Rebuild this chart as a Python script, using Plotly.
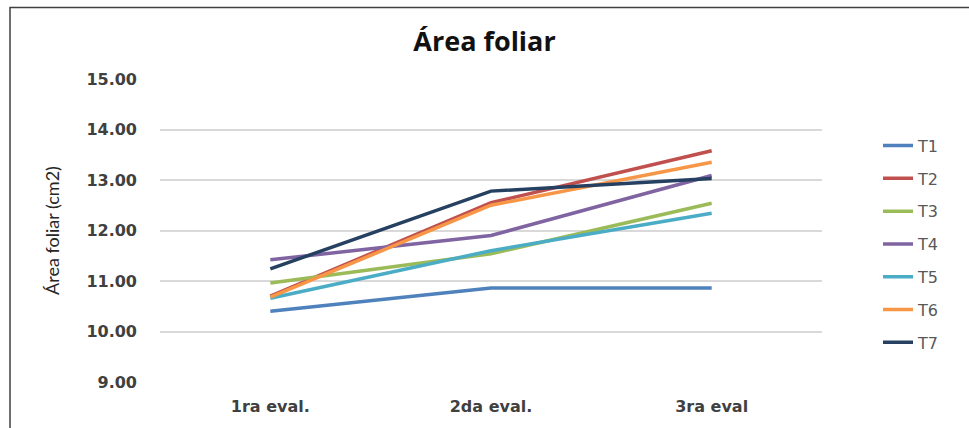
import plotly.graph_objects as go

categories = ["1ra eval.", "2da eval.", "3ra eval"]
series_names = ["T1", "T2", "T3", "T4", "T5", "T6", "T7"]
T1 = [10.40, 10.86, 10.86]
T2 = [10.70, 12.55, 13.58]
T3 = [10.96, 11.54, 12.54]
T4 = [11.42, 11.90, 13.09]
T5 = [10.66, 11.60, 12.34]
T6 = [10.68, 12.50, 13.35]
T7 = [11.24, 12.78, 13.03]
series_values = [T1, T2, T3, T4, T5, T6, T7]
colors = ["#4F81BD", "#C0504D", "#9BBB59", "#8064A2", "#4BACC6", "#F79646", "#254061"]
y_ticks = [9, 10, 11, 12, 13, 14, 15]
y_ticktext = ["9.00", "10.00", "11.00", "12.00", "13.00", "14.00", "15.00"]

fig = go.Figure()
for name, vals, col in zip(series_names, series_values, colors):
    fig.add_trace(go.Scatter(
        x=categories, y=vals, mode="lines", name=name, legendgroup=name,
        line=dict(color=col, width=3.5),
    ))

W, H = 969, 428
ml, mr, mt, mb = 160, 147, 79, 44
pw, ph = W - ml - mr, H - mt - mb

def px_x(p):
    return (p - ml) / pw

def px_y(p):
    return 1 - (p - mt) / ph

fig.update_layout(
    width=W, height=H,
    margin=dict(l=ml, r=mr, t=mt, b=mb),
    paper_bgcolor="white", plot_bgcolor="white",
    title=dict(text="<b>Área foliar</b>", x=px_x(491), xanchor="center",
               y=1 - 42 / H, yanchor="middle",
               font=dict(family="Open Sans", size=27, color="#111111")),
    xaxis=dict(type="category", range=[-0.5, 2.5], showgrid=False, zeroline=False,
               showline=False, ticks="", tickfont=dict(family="DejaVu Sans", size=16, color="#404040",
                                                        weight="bold"),
               ticklabelstandoff=13),
    yaxis=dict(range=[9, 15], tickvals=y_ticks, ticktext=y_ticktext, showgrid=True,
               gridcolor="#D9D9D9", gridwidth=1.5, zeroline=False, showline=False, ticks="",
               tickfont=dict(family="DejaVu Sans", size=16, color="#404040", weight="bold"),
               ticklabelstandoff=22,
               title=dict(text="Área foliar (cm2)", standoff=22,
                          font=dict(family="Lato", size=18, color="#262626"))),
    showlegend=True,
    legend=dict(x=px_x(878), xanchor="left", y=px_y(129), yanchor="top",
                tracegroupgap=9, font=dict(family="DejaVu Sans", size=16, color="#595959"),
                bgcolor="rgba(0,0,0,0)"),
    shapes=[dict(type="rect", xref="paper", yref="paper",
                 x0=px_x(10), x1=px_x(W + 20), y0=px_y(H + 20), y1=px_y(7),
                 line=dict(color="#404040", width=1.5), fillcolor="rgba(0,0,0,0)", layer="below")],
)

fig.write_html("out.html")
